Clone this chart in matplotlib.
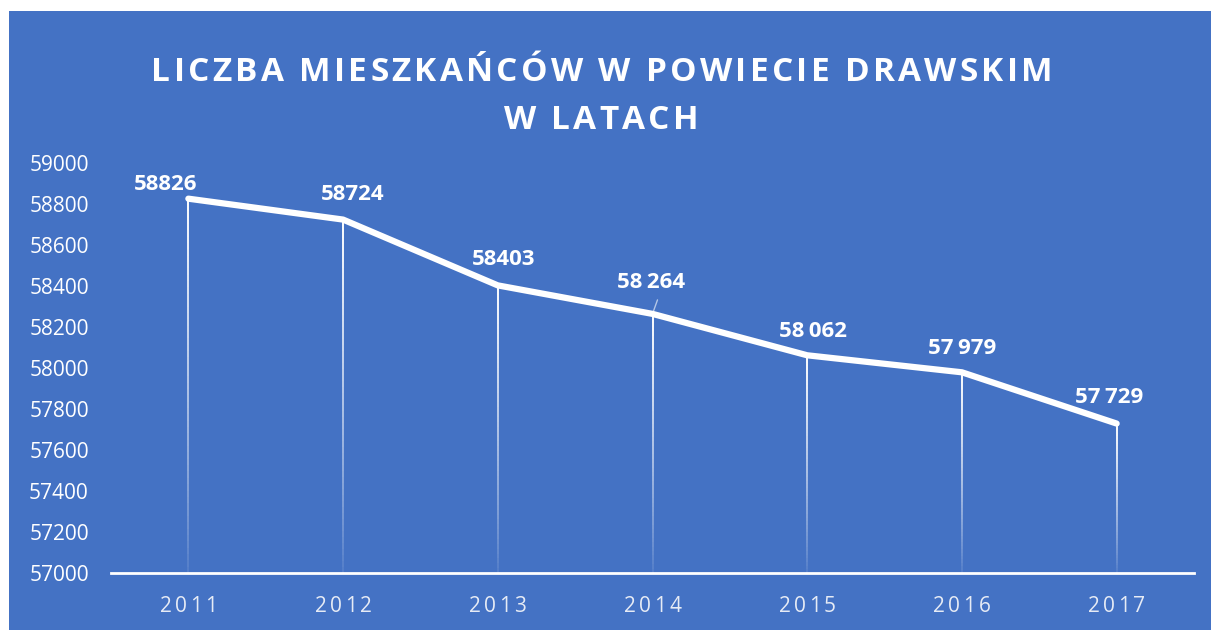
import matplotlib
matplotlib.use('Agg')
import matplotlib.pyplot as plt
from matplotlib.patches import Rectangle
from matplotlib.collections import LineCollection
import numpy as np

# dane
years = ['2011', '2012', '2013', '2014', '2015', '2016', '2017']
population = [58826, 58724, 58403, 58264, 58062, 57979, 57729]
value_labels = ['58826', '58724', '58403', '58\u2009264', '58\u2009062', '57\u2009979', '57\u2009729']
y_ticks = list(range(57000, 59001, 200))
title_lines = ['LICZBA MIESZKAŃCÓW W POWIECIE DRAWSKIM', 'W LATACH']

# przesuniecia etykiet (piksele)
label_offsets = [(-23, 14), (10, 25), (6, 26), (-1, 31), (6, 24), (0, 24), (-8, 26)]

W, H = 1211, 630
BLUE = '#4472C4'
plt.rcParams['font.family'] = ['Open Sans', 'DejaVu Sans']

fig = plt.figure(figsize=(W / 100, H / 100), dpi=100, facecolor='white')
fig.patches.append(Rectangle((9 / W, 0), 1, 1 - 11 / H, transform=fig.transFigure,
                             facecolor=BLUE, edgecolor='none', zorder=-1))
renderer = fig.canvas.get_renderer()


def spaced_text(xc, yb, s, spacing=None, target=None, **kw):
    # tekst z rozstawem liter, wspolrzedne w pikselach (od dolu)
    def width(t):
        tt = fig.text(0, 0, t, **kw)
        w = tt.get_window_extent(renderer).width
        tt.remove()
        return w
    base = width('HH')
    adv = [width('H' + c + 'H') - base for c in s]
    if spacing is None:
        spacing = (target - sum(adv)) / (len(s) - 1)
    total = sum(adv) + spacing * (len(s) - 1)
    x0 = xc - total / 2
    for c, a in zip(s, adv):
        if c != ' ':
            fig.text(x0 / W, yb / H, c, ha='left', va='baseline', **kw)
        x0 += a + spacing
    return spacing


ax = fig.add_axes([111 / W, 57 / H, (1194 - 111) / W, 410 / H])
ax.set_facecolor('none')
x = np.arange(len(years))
ax.set_xlim(-0.5, 6.5)
ax.set_ylim(57000, 59000)

# linie pionowe z zanikaniem
for xi, yi in zip(x, population):
    ys = np.linspace(57000, yi, 60)
    segs = [[(xi, ys[i]), (xi, ys[i + 1])] for i in range(len(ys) - 1)]
    alphas = np.linspace(0.05, 1.0, len(segs)) ** 0.8
    cols = [(1, 1, 1, a) for a in alphas]
    ax.add_collection(LineCollection(segs, colors=cols, linewidths=1.4, zorder=2))

ax.plot(x, population, color='white', lw=4.5, solid_capstyle='round',
        solid_joinstyle='round', zorder=3)

for i, (xi, yi) in enumerate(zip(x, population)):
    dx, dy = label_offsets[i]
    ax.annotate(value_labels[i], (xi, yi), xytext=(dx, dy), textcoords='offset pixels',
                ha='center', va='center', color='white', fontsize=16, fontweight='bold',
                zorder=4)

# krotka linia odniesienia przy 2014
ax.annotate('', (x[3], population[3]), xytext=(5, 14), textcoords='offset pixels',
            arrowprops=dict(arrowstyle='-', color='#b4c7e7', lw=1, shrinkA=0, shrinkB=0),
            zorder=2)

for s in ['top', 'right', 'left']:
    ax.spines[s].set_visible(False)
ax.spines['bottom'].set_color('white')
ax.spines['bottom'].set_linewidth(2)

ax.set_yticks(y_ticks)
ax.set_yticklabels([str(v) for v in y_ticks])
ax.tick_params(axis='y', length=0, pad=16, labelcolor='white', labelsize=15)
ax.set_xticks(x)
ax.set_xticklabels([])
ax.tick_params(axis='x', length=0)

# etykiety osi X
for xi, yr in zip(x, years):
    px = ax.transData.transform((xi, 57000))[0]
    spaced_text(px, H - 612, yr, target=57, color='#e6ebf5', fontsize=15)

# tytul
sp = spaced_text(602, H - 81, title_lines[0], target=901, color='white',
                 fontsize=24, fontweight='bold')
spaced_text(601, H - 129, title_lines[1], spacing=sp, color='white',
            fontsize=24, fontweight='bold')

fig.savefig('out.png', dpi=100, facecolor='white')
